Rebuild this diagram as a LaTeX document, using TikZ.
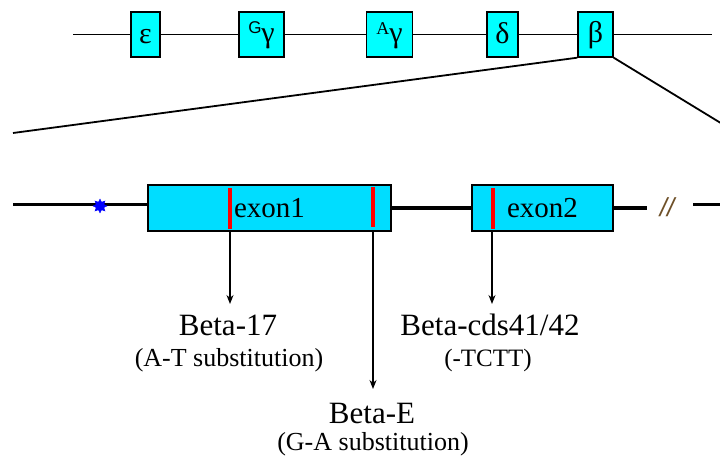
\documentclass[tikz,border=0pt]{standalone}
\usepackage{fontspec}
\setmainfont{Liberation Serif}
\newfontfamily\serf{Liberation Serif}
\newfontfamily\sansf{Liberation Sans}
\usetikzlibrary{shapes.geometric,arrows.meta}
\definecolor{topcyan}{RGB}{0,255,255}
\definecolor{exoncyan}{RGB}{0,221,255}
\definecolor{slashcol}{RGB}{110,80,40}
\newcommand{\gstrut}{\rule[-3pt]{0pt}{25pt}}
\newcommand{\estrut}{\rule[-2pt]{0pt}{23pt}}
\begin{document}
\begin{tikzpicture}[x=1pt,y=-1pt,
  genebox/.style={draw=black, line width=1.4pt, fill=topcyan, inner sep=0pt,
    minimum height=45pt, font=\serf\fontsize{30pt}{30pt}\selectfont},
  exonbox/.style={draw=black, line width=1.5pt, fill=exoncyan, inner sep=0pt,
    minimum height=46pt, font=\serf\fontsize{29pt}{29pt}\selectfont},
  thinline/.style={line width=1.8pt},
  thickline/.style={line width=3.2pt},
  redbar/.style={red, line width=3.8pt},
  arr/.style={line width=1.3pt, -{Stealth[length=9pt,width=7pt]}},
  mainlab/.style={font=\serf\fontsize{31pt}{31pt}\selectfont, anchor=base, inner sep=0pt},
  sublab/.style={font=\serf\fontsize{26pt}{26pt}\selectfont, anchor=base, inner sep=0pt},
]
\useasboundingbox (0,0) rectangle (720,457);

% ---- top gene cluster ----
\coordinate (topL) at (73,34.5);
\coordinate (topR) at (712,34.5);
\coordinate (diagL) at (13,133);
\coordinate (diagR) at (724,125);

\node[genebox, minimum width=29pt] (eps) at (145.5,34.5) {\gstrut ε};
\node[genebox, minimum width=45pt] (gg) at (261.5,34.5)
  {\gstrut\raisebox{8.5pt}{\sansf\fontsize{17pt}{17pt}\selectfont G}γ};
\node[genebox, minimum width=46pt] (ag) at (389.5,34.5)
  {\gstrut\raisebox{8pt}{\fontsize{18pt}{18pt}\selectfont A}γ};
\node[genebox, minimum width=31pt] (del) at (502.5,34.5) {\gstrut δ};
\node[genebox, minimum width=35pt] (bet) at (595.5,34.5) {\gstrut β};

\draw[thinline] (topL) -- (eps.west);
\draw[thinline] (eps.east) -- (gg.west);
\draw[thinline] (gg.east) -- (ag.west);
\draw[thinline] (ag.east) -- (del.west);
\draw[thinline] (del.east) -- (bet.west);
\draw[thinline] (bet.east) -- (topR);
\draw[thinline] (bet.south west) -- (diagL);
\draw[thinline] (bet.south east) -- (diagR);

% ---- beta gene ----
\coordinate (lowL) at (13,204.5);
\coordinate (midR) at (647,208);
\coordinate (farL) at (693,204.5);
\coordinate (farR) at (722,204.5);

\node[exonbox, minimum width=243pt] (ex1) at (269.5,208) {\estrut exon1};
\node[exonbox, minimum width=141pt] (ex2) at (542.5,208) {\estrut exon2};

\draw[thickline] (lowL) -- (ex1.west |- lowL);
\draw[thickline] (ex1.east) -- (ex2.west);
\draw[thickline] (ex2.east) -- (midR);
\draw[thickline] (farL) -- (farR);
\node[text=slashcol, font=\sansf\fontsize{26pt}{26pt}\selectfont\itshape, inner sep=0pt] (brk) at (667,207) {//};

\node[star, star points=8, star point ratio=1.7, fill=blue, draw=blue,
  minimum size=14pt, inner sep=0pt] (prom) at (100,206) {};

% mutation bars
\coordinate (m1) at (230,208);
\coordinate (m2) at (373,207);
\coordinate (m3) at (493,208);
\draw[redbar] (230,188) -- (230,229);
\draw[redbar] (373,187) -- (373,227);
\draw[redbar] (493,188) -- (493,229);

% labels
\node[mainlab] (b17) at (228,335) {Beta-17};
\node[sublab] (b17s) at (229,366) {(A-T substitution)};
\node[mainlab] (bcd) at (490,335) {Beta-cds41/42};
\node[sublab, font=\serf\fontsize{25pt}{25pt}\selectfont] (bcds) at (488,366) {(-TCTT)};
\node[mainlab] (be) at (372,423) {Beta-E};
\node[sublab] (bes) at (373,450) {(G-A substitution)};

\coordinate (a1) at (230,304);
\coordinate (a2) at (373,389);
\coordinate (a3) at (492,304);
\draw[arr] (m1 |- ex1.south) -- (a1);
\draw[arr] (m2 |- ex1.south) -- (a2);
\draw[arr] (a3 |- ex2.south) -- (a3);
\end{tikzpicture}
\end{document}
